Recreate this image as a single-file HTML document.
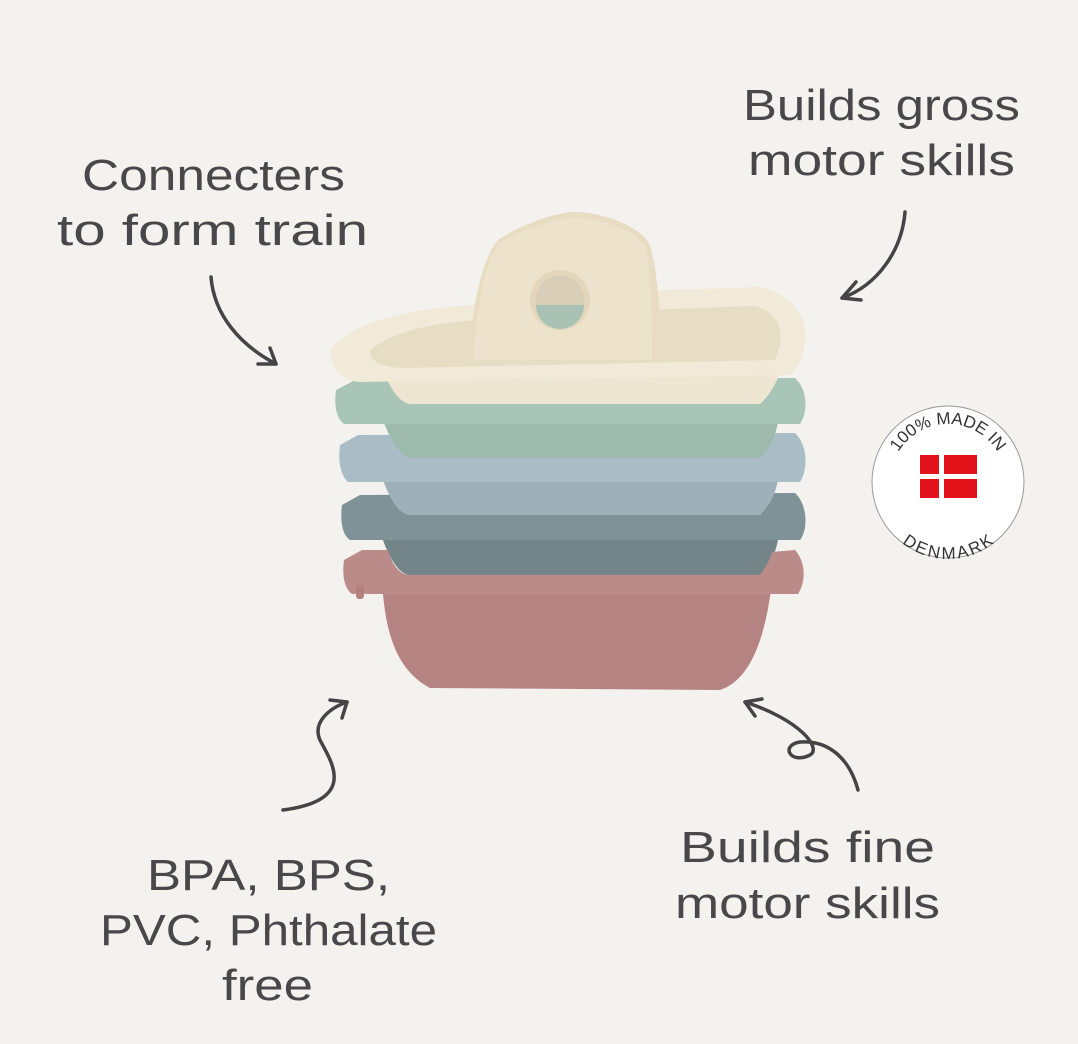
<!DOCTYPE html>
<html><head><meta charset="utf-8"><style>
html,body{margin:0;padding:0;background:#f3f2ee;}
svg{display:block;}
text.h{font-family:"Liberation Sans",sans-serif;font-size:44px;fill:#48484a;}
</style></head><body>
<svg width="1078" height="1044" viewBox="0 0 1078 1044" xmlns="http://www.w3.org/2000/svg">
<rect width="1078" height="1044" fill="#f3f2ee"/>
<!-- labels -->
<text class="h" x="82" y="190" textLength="263" lengthAdjust="spacingAndGlyphs">Connecters</text>
<text class="h" x="57" y="245" textLength="311" lengthAdjust="spacingAndGlyphs">to form train</text>
<text class="h" x="743" y="120" textLength="277" lengthAdjust="spacingAndGlyphs">Builds gross</text>
<text class="h" x="748" y="175" textLength="267" lengthAdjust="spacingAndGlyphs">motor skills</text>
<text class="h" x="147" y="890" textLength="243" lengthAdjust="spacingAndGlyphs">BPA, BPS,</text>
<text class="h" x="100" y="945" textLength="337" lengthAdjust="spacingAndGlyphs">PVC, Phthalate</text>
<text class="h" x="222" y="1000" textLength="91" lengthAdjust="spacingAndGlyphs">free</text>
<text class="h" x="680" y="862" textLength="255" lengthAdjust="spacingAndGlyphs">Builds fine</text>
<text class="h" x="675" y="918" textLength="265" lengthAdjust="spacingAndGlyphs">motor skills</text>
<!-- arrows -->
<g fill="none" stroke="#444446" stroke-width="3.5" stroke-linecap="round" stroke-linejoin="round">
<path d="M211 277 C 214 315 240 345 276 364"/><path d="M258 364 L276 364 L270 348"/>
<path d="M905 212 C 902 250 878 285 842 298"/><path d="M856 282 L842 298 L861 300"/>
<path d="M283 810 C 360 800 330 760 320 740 C 312 722 330 708 347 702"/><path d="M330 700 L347 702 L342 718"/>
<path d="M858 790 C 850 760 830 740 800 742 C 780 745 790 765 810 755 C 822 748 800 720 745 702"/><path d="M755 716 L745 702 L762 699"/>
</g>
<!-- boats: pink hull -->
<path d="M382 580 C 385 640 400 672 430 688 L720 690 C 750 680 765 640 772 582 Z" fill="#b58482"/>
<!-- slate -->
<path d="M383 540 C 390 560 400 575 410 575 L760 575 C 770 565 775 555 778 540 Z" fill="#738589"/>
<path d="M342 505 C 340 520 342 535 350 540 L800 540 C 808 530 808 505 795 493 L360 495 Z" fill="#7f9298"/>
<!-- pink rim (front) -->
<path d="M344 560 C 342 575 344 588 352 594 L798 594 C 806 582 806 562 795 550 L772 552 C 770 560 765 568 760 575 L410 575 C 400 575 392 565 388 550 L362 550 Z" fill="#bb8b89"/>
<rect x="356" y="585" width="8" height="14" rx="3" fill="#b38280"/>
<!-- blue -->
<path d="M383 480 C 390 500 400 515 410 515 L760 515 C 770 505 775 495 778 480 Z" fill="#9eb1ba"/>
<path d="M340 445 C 338 460 340 475 348 482 L800 482 C 808 470 808 445 795 433 L358 435 Z" fill="#aabdc6"/>
<!-- green -->
<path d="M383 420 C 390 440 400 455 410 458 L760 458 C 770 448 775 438 778 422 Z" fill="#9dbaac"/>
<path d="M336 390 C 334 405 336 418 344 424 L800 424 C 808 412 808 390 795 378 L355 380 Z" fill="#a9c5b7"/>
<!-- cream hull -->
<path d="M385 375 C 392 392 400 402 410 404 L760 404 C 770 395 778 380 780 372 Z" fill="#eee6d3"/>
<path d="M330 352 C 345 325 400 310 470 305 L660 290 L760 287 C 790 292 803 315 805 330 C 806 350 800 368 790 375 L360 382 C 342 380 332 372 330 352 Z" fill="#f1ead8"/>
<path d="M370 350 C 395 330 440 322 480 320 L640 310 L755 306 C 775 312 783 325 780 345 L775 360 L400 368 C 380 366 368 360 370 350 Z" fill="#e7dcc4"/>
<!-- cabin -->
<path d="M470 360 C 470 320 480 260 498 240 C 520 225 555 212 575 212 C 600 212 640 225 650 245 C 660 280 660 330 660 360 Z" fill="#e8dcc3"/>
<path d="M474 360 C 474 320 484 262 500 243 C 520 230 555 218 575 218 C 598 218 638 230 646 248 C 652 280 652 330 652 360 Z" fill="#ede2cb"/>
<circle cx="560" cy="300" r="30" fill="#e3d6bc"/>
<circle cx="560" cy="300" r="24" fill="#d8cdb6"/>
<path d="M536 305 L584 305 A24 24 0 0 1 536 305 Z" fill="#a9c2b4"/>
<!-- badge -->
<circle cx="948" cy="482" r="76" fill="#fff" stroke="#999" stroke-width="1"/>
<defs>
<path id="top" d="M890 482 A58 58 0 0 1 1006 482"/>
<path id="bot" d="M886 485 A62 62 0 0 0 1010 485"/>
</defs>
<text font-family="Liberation Sans,sans-serif" font-size="17" fill="#333"><textPath href="#top" startOffset="50%" text-anchor="middle">100% MADE IN</textPath></text>
<text font-family="Liberation Sans,sans-serif" font-size="17" fill="#333"><textPath href="#bot" startOffset="50%" text-anchor="middle" dominant-baseline="hanging">DENMARK</textPath></text>
<rect x="920" y="455" width="57" height="43" fill="#e3121b"/>
<rect x="939" y="455" width="5" height="43" fill="#fff"/>
<rect x="920" y="474" width="57" height="5" fill="#fff"/>
</svg>
</body></html>
